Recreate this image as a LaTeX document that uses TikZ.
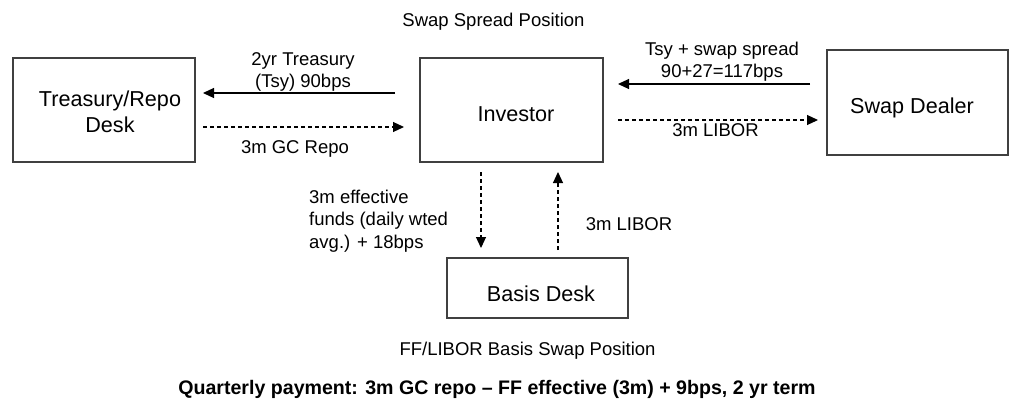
\documentclass[tikz,border=0pt]{standalone}
\usepackage{fontspec}
\setmainfont{Liberation Sans}
\usetikzlibrary{arrows.meta}
\begin{document}
\begin{tikzpicture}[x=1pt,y=-1pt,
  box/.style={draw=black!75,line width=1.3pt,inner sep=0pt},
  boxtxt/.style={font=\fontsize{21.6}{26}\selectfont,align=center,inner sep=0pt,anchor=base},
  lbl/.style={font=\fontsize{18.5}{22}\selectfont,align=center,inner sep=0pt,anchor=base},
  flow/.style={line width=1.1pt,-{Triangle[length=11pt,width=10pt]}},
  dflow/.style={flow,dash pattern=on 4pt off 3pt}]
\useasboundingbox (0,0) rectangle (1009,399);
\node[box,minimum width=182pt,minimum height=104pt] (trd) at (104,110) {};
\node[box,minimum width=183pt,minimum height=104pt] (inv) at (511.5,110) {};
\node[box,minimum width=181pt,minimum height=105pt] (swd) at (917.5,102.5) {};
\node[box,minimum width=181pt,minimum height=60pt] (bas) at (537.5,288) {};
\node[boxtxt] (trdt) at (110,132) {Treasury/Repo\\Desk};
\node[boxtxt] (invt) at (516,121) {Investor};
\node[boxtxt] (swdt) at (912,113) {Swap Dealer};
\node[boxtxt] (bast) at (541,301) {Basis Desk};
\coordinate (a1s) at (395,93); \coordinate (a1e) at (203,93);
\draw[flow] (a1s) -- (a1e);
\coordinate (a2s) at (203,127); \coordinate (a2e) at (404,127);
\draw[dflow] (a2s) -- (a2e);
\coordinate (a3s) at (810,84); \coordinate (a3e) at (618,84);
\draw[flow] (a3s) -- (a3e);
\coordinate (a4s) at (618,120); \coordinate (a4e) at (818,120);
\draw[dflow] (a4s) -- (a4e);
\coordinate (a5s) at (481,172); \coordinate (a5e) at (481,248);
\draw[dflow] (a5s) -- (a5e);
\coordinate (a6s) at (558,250); \coordinate (a6e) at (558,172);
\draw[dflow] (a6s) -- (a6e);
\node[lbl] (l1) at (303,87) {2yr Treasury\\(Tsy) 90bps};
\node[lbl] (l2) at (295,153) {3m GC Repo};
\node[lbl] (l3) at (722,77) {Tsy + swap spread\\90+27=117bps};
\node[lbl] (l4) at (715.5,136) {3m LIBOR};
\node[lbl,align=left,anchor=base west,font=\fontsize{18.5}{22.5}\selectfont] (l5) at (309,248) {3m effective\\funds (daily wted\\avg.) + 18bps};
\node[lbl] (l6) at (629,230) {3m LIBOR};
\node[lbl] (t1) at (493.5,26) {Swap Spread Position};
\node[lbl] (t2) at (527.5,355) {FF/LIBOR Basis Swap Position};
\node[lbl,font=\fontsize{19.6}{22}\selectfont\bfseries] (t3) at (497,394) {Quarterly payment: 3m GC repo – FF effective (3m) + 9bps, 2 yr term};
\end{tikzpicture}
\end{document}
